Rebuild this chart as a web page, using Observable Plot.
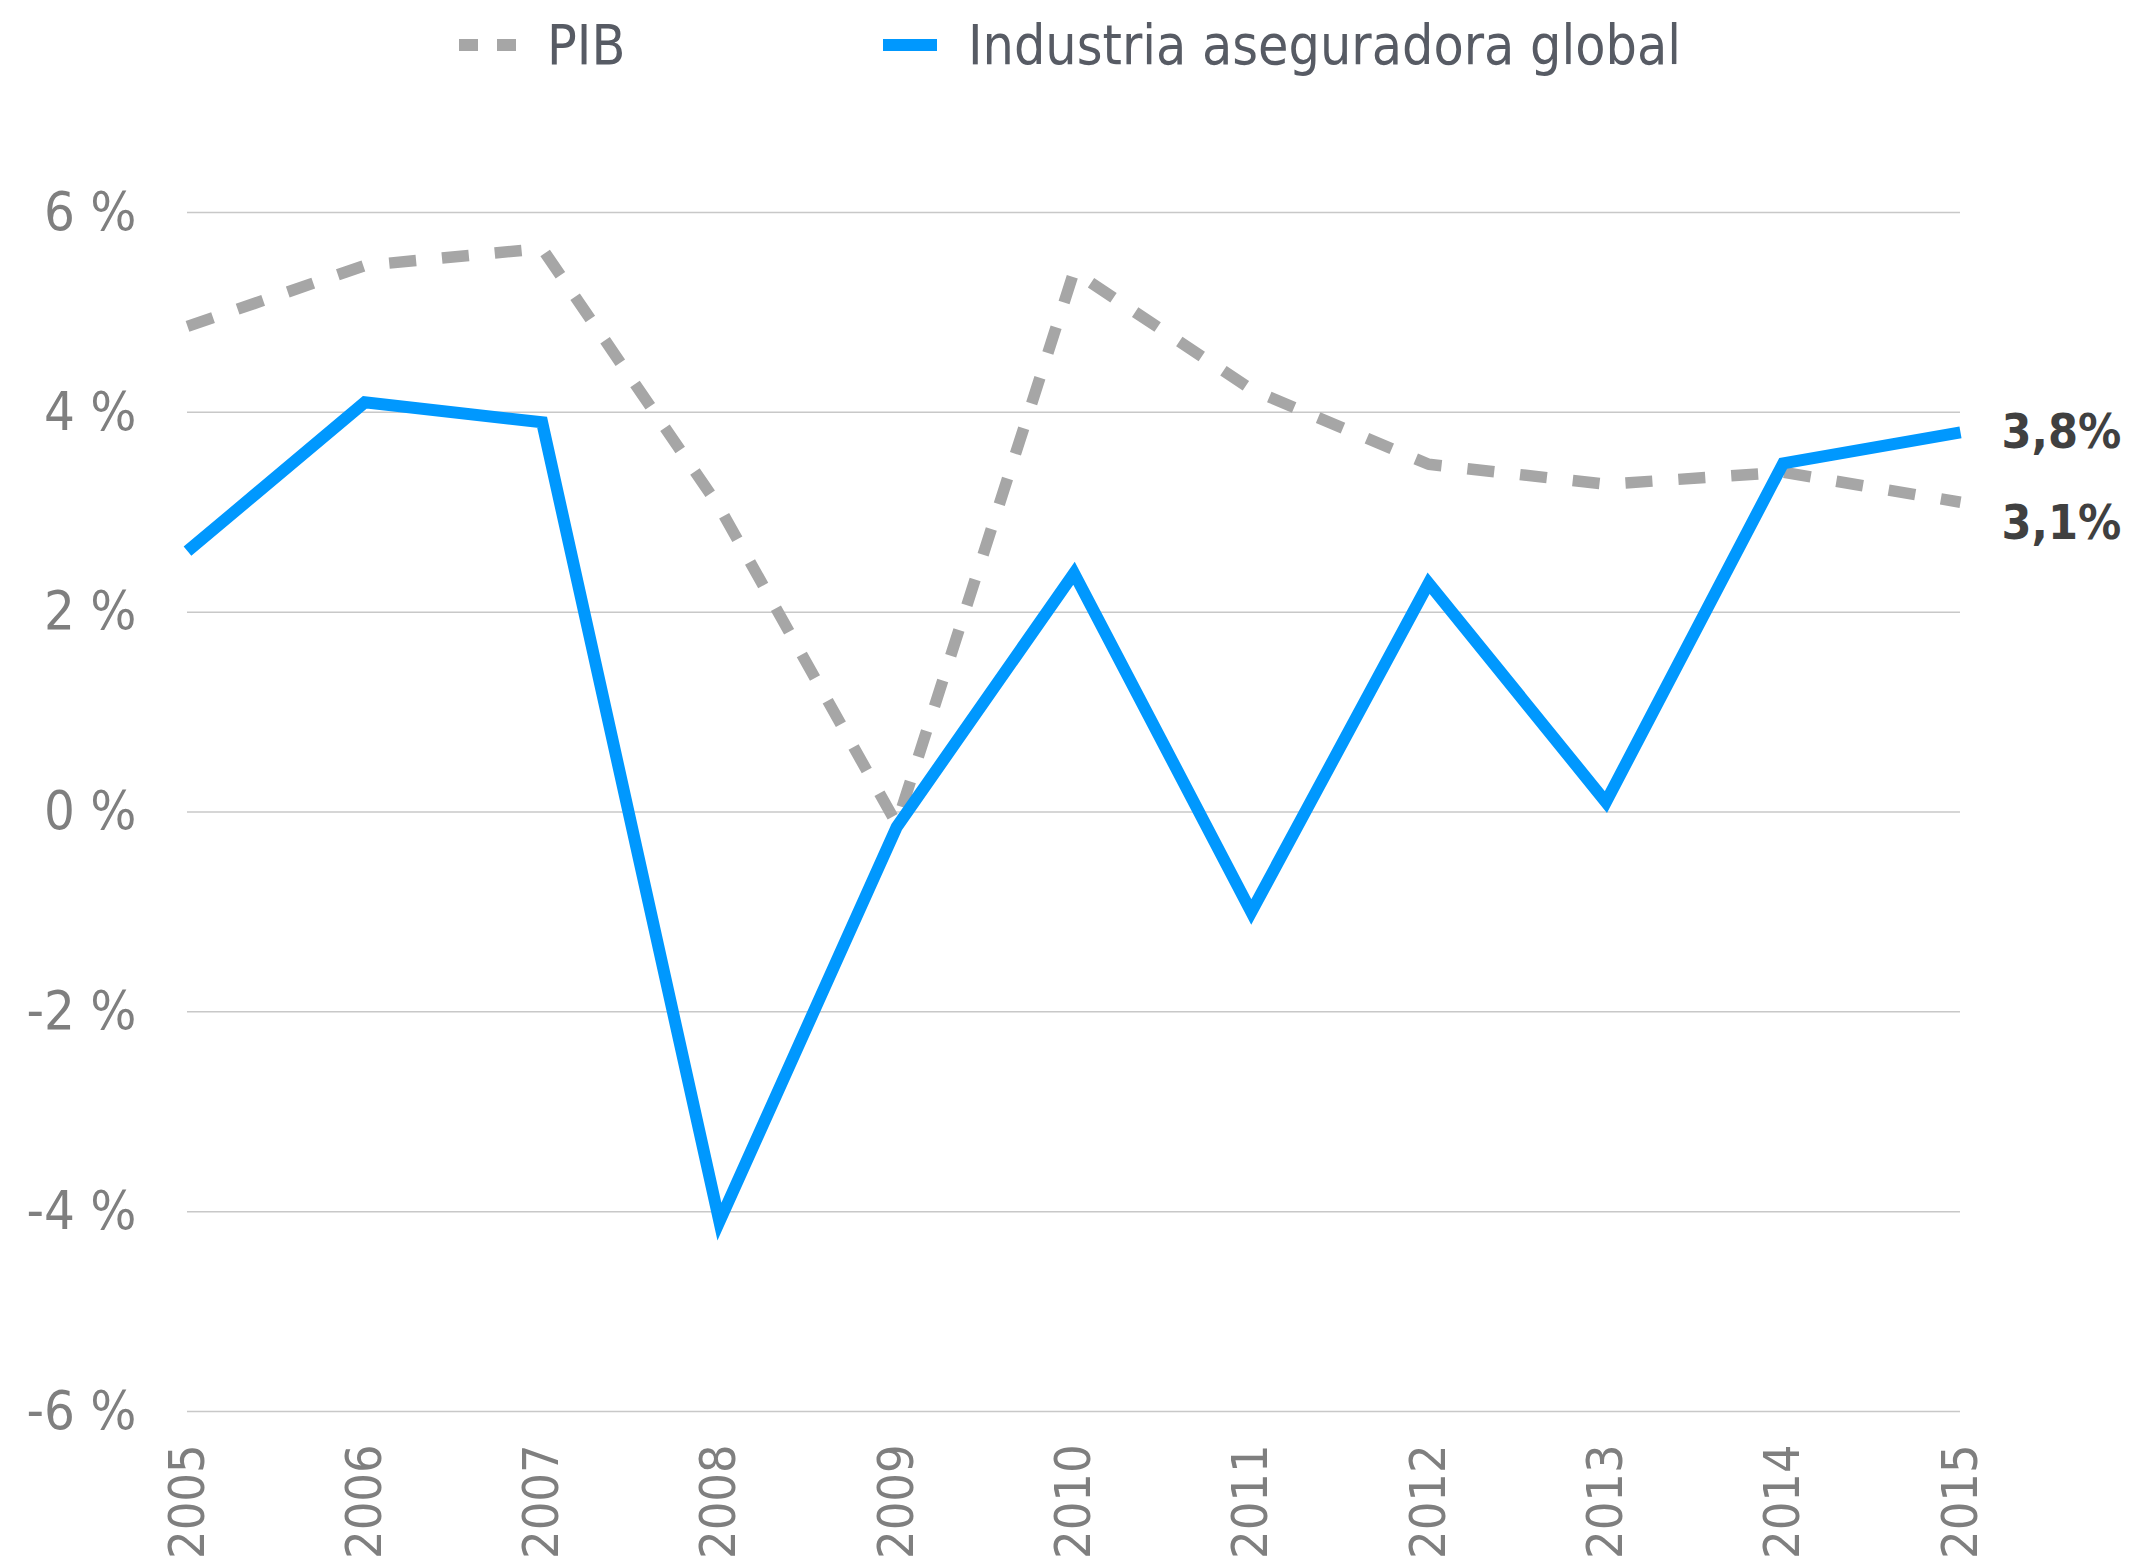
<!DOCTYPE html>
<html><head><meta charset="utf-8">
<script src="https://cdn.jsdelivr.net/npm/d3@7"></script>
<script src="https://cdn.jsdelivr.net/npm/@observablehq/plot@0.6"></script>
<style>
body{margin:0;background:#fff;width:2130px;height:1566px;overflow:hidden;font-family:"Liberation Sans Narrow","DejaVu Sans Condensed",sans-serif;}
#legend{position:relative;height:90px;width:2130px;}
#legend .t{position:absolute;top:0;height:90px;line-height:90px;font-size:55px;color:#575b64;white-space:nowrap;}
#legend .s{position:absolute;}
</style></head><body>
<div id="legend"></div>
<div id="chart"></div>
<script>
const years = [2005, 2006, 2007, 2008, 2009, 2010, 2011, 2012, 2013, 2014, 2015];
const pib = [4.86, 5.47, 5.64, 3.05, -0.12, 5.41, 4.23, 3.48, 3.28, 3.40, 3.10];
const industria = [2.61, 4.10, 3.90, -4.10, -0.15, 2.39, -1.00, 2.29, 0.10, 3.49, 3.80];
const yTicks = [-6, -4, -2, 0, 2, 4, 6];
const seriesNames = ["PIB", "Industria aseguradora global"];
const endLabels = ["3,8%", "3,1%"];

const colors = {PIB: "#a6a6a6", IND: "#0098fe"};
const font = '"Liberation Sans Narrow","DejaVu Sans Condensed",sans-serif';

// Legend
const legend = document.getElementById("legend");
legend.innerHTML =
  `<svg class="s" style="left:459px;top:39px" width="60" height="12"><rect x="0" y="0" width="19" height="12" fill="${colors.PIB}"/><rect x="38" y="0" width="19" height="12" fill="${colors.PIB}"/></svg>` +
  `<div class="t" style="left:547px">${seriesNames[0]}</div>` +
  `<svg class="s" style="left:883px;top:39px" width="56" height="12"><rect x="0" y="0" width="54" height="12" fill="${colors.IND}"/></svg>` +
  `<div class="t" style="left:968px">${seriesNames[1]}</div>`;

const pibData = years.map((y, i) => ({year: y, v: pib[i]}));
const indData = years.map((y, i) => ({year: y, v: industria[i]}));
const last = years.length - 1;

const chart = Plot.plot({
  width: 2130,
  height: 1476,
  marginTop: 122,
  marginBottom: 155,
  marginLeft: 187,
  marginRight: 170,
  style: {fontFamily: font, background: "white", color: "#7f7f7f", fontSize: "54px"},
  x: {type: "linear", domain: [years[0], years[last]]},
  y: {domain: [yTicks[0], yTicks[yTicks.length - 1]]},
  marks: [
    Plot.ruleY(yTicks, {stroke: "#c8c8c8", strokeWidth: 1.5}),
    Plot.axisY({ticks: yTicks, tickFormat: d => `${d} %`, tickSize: 0, tickPadding: 51, fontSize: 54, fill: "#7f7f7f"}),
    Plot.axisX({ticks: years, tickFormat: d => String(d), tickRotate: -90, tickSize: 0, tickPadding: 33, fontSize: 50, fill: "#7f7f7f"}),
    Plot.line(pibData, {x: "year", y: "v", stroke: colors.PIB, strokeWidth: 11.5, strokeDasharray: "27,26", strokeLinejoin: "miter", strokeLinecap: "butt"}),
    Plot.line(indData, {x: "year", y: "v", stroke: colors.IND, strokeWidth: 12, strokeLinejoin: "miter", strokeMiterlimit: 10, strokeLinecap: "butt"}),
    Plot.text([{x: years[last], y: industria[last], t: endLabels[0]}], {x: "x", y: "y", text: "t", dx: 41, textAnchor: "start", fontSize: 48, fontWeight: "bold", fill: "#404040"}),
    Plot.text([{x: years[last], y: pib[last], t: endLabels[1]}], {x: "x", y: "y", text: "t", dx: 41, dy: 21, textAnchor: "start", fontSize: 48, fontWeight: "bold", fill: "#404040"})
  ]
});
document.getElementById("chart").appendChild(chart);
</script>
</body></html>
